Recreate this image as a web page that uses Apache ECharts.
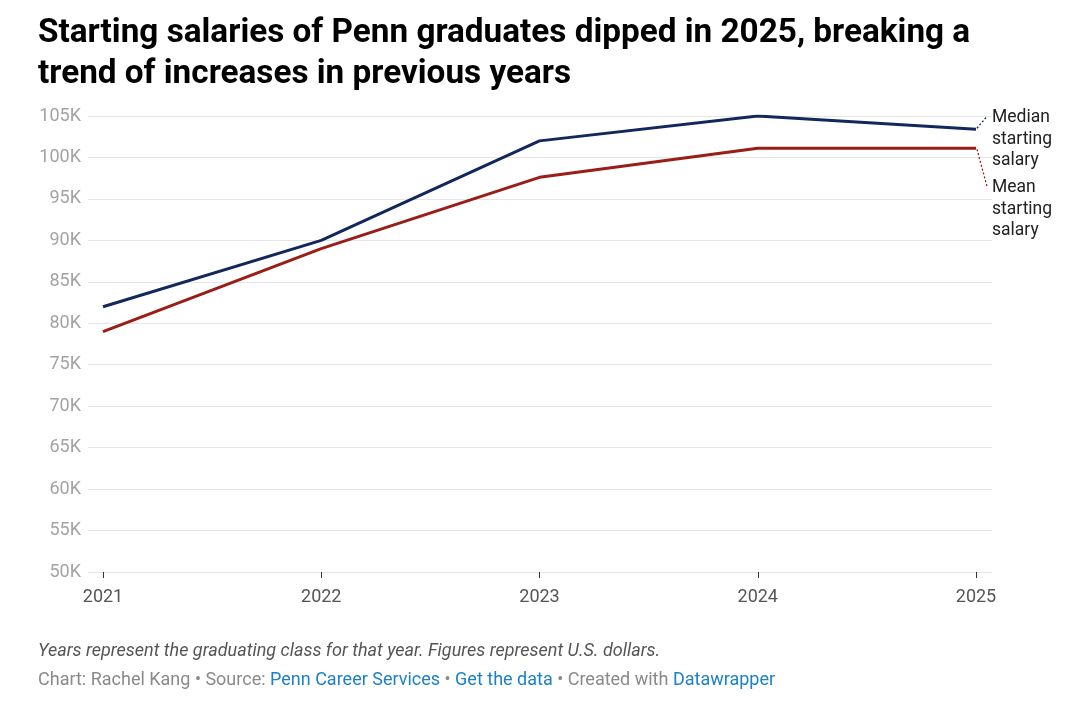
<!DOCTYPE html>
<html>
<head>
<meta charset="utf-8">
<script src="https://cdn.jsdelivr.net/npm/echarts@6/dist/echarts.min.js"></script>
<style>
  html, body { margin: 0; padding: 0; background: #fff; }
  #chart { width: 1080px; height: 726px; }
</style>
</head>
<body>
<div id="chart"></div>
<script>
const years = [2021, 2022, 2023, 2024, 2025];
const medianSalary = [82000, 90000, 102000, 105000, 103400];
const meanSalary = [79000, 89000, 97600, 101100, 101100];
const yTicks = [50000, 55000, 60000, 65000, 70000, 75000, 80000, 85000, 90000, 95000, 100000, 105000];

const FONT = 'Roboto, "Noto Sans", sans-serif';
const NAVY = '#12285c';
const RED = '#981e16';

const chart = echarts.init(document.getElementById('chart'));

const option = {
  animation: false,
  textStyle: { fontFamily: FONT },
  title: {
    text: 'Starting salaries of Penn graduates dipped in 2025, breaking a\ntrend of increases in previous years',
    left: 33,
    top: 8,
    textStyle: {
      fontFamily: FONT,
      fontSize: 33.3,
      fontWeight: 'bold',
      color: '#000',
      lineHeight: 41
    }
  },
  grid: { left: 88, right: 88, top: 116, bottom: 154 },
  xAxis: {
    type: 'value',
    min: 2021 - 15 / 218.25,
    max: 2025 + 16 / 218.25,
    splitLine: { show: false },
    axisLine: { show: false },
    axisTick: {
      show: true,
      customValues: years,
      length: 6,
      lineStyle: { color: '#333', width: 1 }
    },
    axisLabel: {
      customValues: years,
      formatter: v => String(v),
      color: '#555',
      fontSize: 18,
      margin: 16,
      fontFamily: FONT
    }
  },
  yAxis: {
    type: 'value',
    min: yTicks[0],
    max: yTicks[yTicks.length - 1],
    interval: 5000,
    axisLine: { show: false },
    axisTick: { show: false },
    splitLine: { lineStyle: { color: '#e6e6e6', width: 1 } },
    axisLabel: {
      formatter: v => (v / 1000) + 'K',
      color: '#a3a3a3',
      fontSize: 18,
      margin: 7,
      fontFamily: FONT
    }
  },
  series: [
    {
      name: 'Median starting salary',
      type: 'line',
      data: years.map((y, i) => [y, medianSalary[i]]),
      symbol: 'none',
      lineStyle: { color: NAVY, width: 3 }
    },
    {
      name: 'Mean starting salary',
      type: 'line',
      data: years.map((y, i) => [y, meanSalary[i]]),
      symbol: 'none',
      lineStyle: { color: RED, width: 3 }
    }
  ]
};

chart.setOption(option);

// end labels with dotted connectors, positioned from the last data points
const last = years.length - 1;
const pMed = chart.convertToPixel({ gridIndex: 0 }, [years[last], medianSalary[last]]);
const pMean = chart.convertToPixel({ gridIndex: 0 }, [years[last], meanSalary[last]]);

chart.setOption({
  graphic: [
    {
      type: 'line',
      shape: { x1: pMed[0] + 1, y1: pMed[1] - 1, x2: pMed[0] + 11, y2: pMed[1] - 13 },
      style: { stroke: NAVY, lineWidth: 1.3, lineDash: [2, 2] }
    },
    {
      type: 'line',
      shape: { x1: pMean[0] + 1, y1: pMean[1] + 1, x2: pMean[0] + 11, y2: pMean[1] + 38 },
      style: { stroke: RED, lineWidth: 1.3, lineDash: [2, 2] }
    },
    {
      type: 'text',
      left: pMed[0] + 16,
      top: pMed[1] - 22,
      style: {
        text: 'Median\nstarting\nsalary',
        font: '17.5px ' + FONT,
        fill: '#222',
        lineHeight: 21.5
      }
    },
    {
      type: 'text',
      left: pMean[0] + 16,
      top: pMean[1] + 29,
      style: {
        text: 'Mean\nstarting\nsalary',
        font: '17.5px ' + FONT,
        fill: '#222',
        lineHeight: 21.5
      }
    },
    {
      type: 'text',
      left: 38,
      top: 642,
      style: {
        text: 'Years represent the graduating class for that year. Figures represent U.S. dollars.',
        font: 'italic 18px ' + FONT,
        fill: '#555'
      }
    },
    {
      type: 'text',
      left: 38,
      top: 671,
      style: {
        text: '{g|Chart: Rachel Kang • Source: }{b|Penn Career Services}{g| • }{b|Get the data}{g| • Created with }{b|Datawrapper}',
        rich: {
          g: { fontFamily: FONT, fontSize: 18, fill: '#8a8a8a' },
          b: { fontFamily: FONT, fontSize: 18, fill: '#1d81c4' }
        }
      }
    }
  ]
});
</script>
</body>
</html>
